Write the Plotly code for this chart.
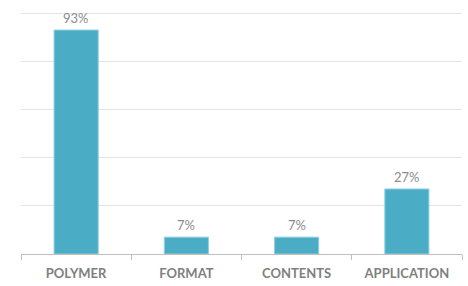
import plotly.graph_objects as go

categories = ["POLYMER", "FORMAT", "CONTENTS", "APPLICATION"]
values = [93, 7, 7, 27]
labels = [f"{v}%" for v in values]

fig = go.Figure()
fig.add_trace(go.Bar(
    x=categories, y=values, width=0.4,
    marker=dict(color="#4BACC6", line=dict(color="#8ccfe0", width=1)),
    hoverinfo="skip",
))
for c, v, t in zip(categories, values, labels):
    fig.add_annotation(x=c, y=v, text=t, showarrow=False, yanchor="bottom", yshift=2,
                       font=dict(family="Lato, Open Sans, sans-serif", size=13, color="#8c8c8c"))

fig.update_layout(
    width=468, height=286,
    margin=dict(l=21, r=6, t=12, b=32, autoexpand=False),
    paper_bgcolor="white", plot_bgcolor="white",
    showlegend=False,
    xaxis=dict(showline=True, linecolor="#bfbfbf", linewidth=1, automargin=False,
               ticks="outside", tickson="boundaries", ticklen=5, tickcolor="#bfbfbf",
               ticklabelstandoff=7,
               tickfont=dict(family="Lato, Open Sans, sans-serif", size=13, color="#7f7f7f", weight="bold"),
               showgrid=False),
    yaxis=dict(range=[0, 100.5], tick0=0, dtick=20, showticklabels=False, showgrid=True, automargin=False,
               gridcolor="#e3e3e3", gridwidth=1, zeroline=False, showline=False),
)
fig.write_html("out.html", config={"displayModeBar": False},
               post_script="document.body.style.margin='0';document.body.style.overflow='hidden';")
